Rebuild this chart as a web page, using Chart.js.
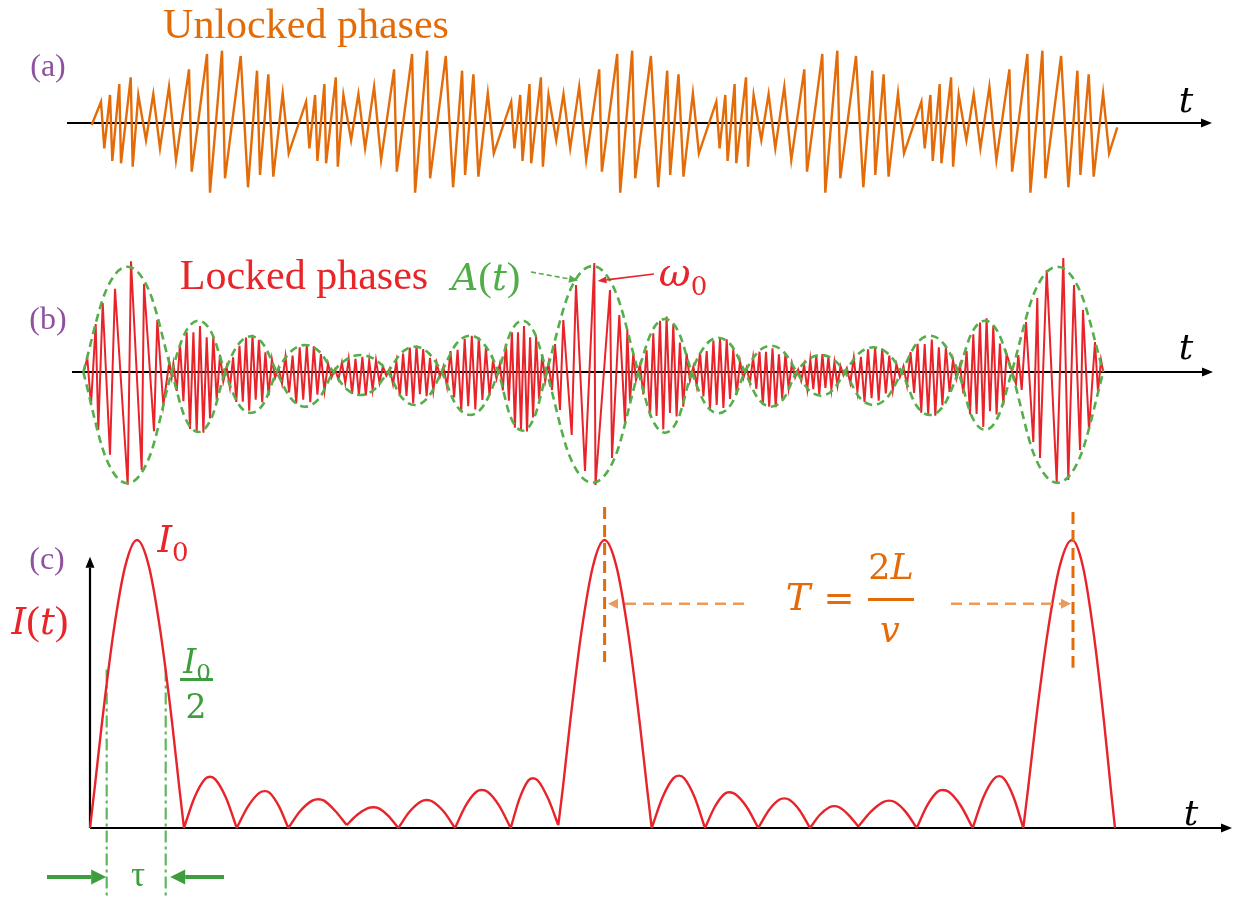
<!DOCTYPE html>
<html><head><meta charset="utf-8">
<script src="https://cdn.jsdelivr.net/npm/chart.js@4"></script>
<style>
html,body{margin:0;padding:0;background:#fff;}
#wrap{position:relative;width:1238px;height:899px;overflow:hidden;background:#fff;}
canvas{position:absolute;left:0;top:0;}
.lbl{position:absolute;white-space:nowrap;line-height:1;transform:translate(-50%,-50%);}
.serif{font-family:"Liberation Serif","Times New Roman",serif;}
.mi{font-family:"DejaVu Serif",serif;font-style:italic;}
.up{font-family:"DejaVu Serif",serif;font-style:normal;}
.bar{position:absolute;height:0;}
</style></head><body>
<div id="wrap">
<canvas id="c" width="1238" height="899"></canvas>
<div class="lbl serif" style="left:48px;top:65px;font-size:32px;color:#8E52A1;">(a)</div>
<div class="lbl serif" style="left:306px;top:24px;font-size:42px;color:#E36C09;">Unlocked phases</div>
<div class="lbl mi" style="left:1186px;top:100px;font-size:36px;color:#000;">t</div>
<div class="lbl serif" style="left:48px;top:318px;font-size:32px;color:#8E52A1;">(b)</div>
<div class="lbl serif" style="left:304px;top:275px;font-size:42px;color:#E8262A;">Locked phases</div>
<div class="lbl" style="left:486px;top:276px;font-size:37px;color:#4FAE48;"><span class="mi">A</span><span class="serif" style="font-size:41px">(</span><span class="mi">t</span><span class="serif" style="font-size:41px">)</span></div>
<div class="lbl" style="left:683px;top:272px;font-size:39px;color:#E8262A;"><span class="mi">ω</span><span class="up" style="font-size:26px;position:relative;top:9px;">0</span></div>
<div class="lbl mi" style="left:1186px;top:347px;font-size:36px;color:#000;">t</div>
<div class="lbl serif" style="left:47px;top:558px;font-size:32px;color:#8E52A1;">(c)</div>
<div class="lbl" style="left:173px;top:539px;font-size:37px;color:#E8262A;"><span class="mi">I</span><span class="up" style="font-size:26px;position:relative;top:9px;">0</span></div>
<div class="lbl" style="left:40px;top:620px;font-size:37px;color:#E8262A;"><span class="mi">I</span><span class="serif" style="font-size:41px">(</span><span class="mi">t</span><span class="serif" style="font-size:41px">)</span></div>
<div class="lbl" style="left:197px;top:662px;font-size:33px;color:#3C9E3C;"><span class="mi">I</span><span class="up" style="font-size:23px;position:relative;top:7px;">0</span></div>
<div class="bar" style="left:180px;top:678px;width:33px;border-top:3px solid #3C9E3C;"></div>
<div class="lbl up" style="left:196px;top:706px;font-size:33px;color:#3C9E3C;">2</div>
<div class="lbl serif" style="left:138px;top:874px;font-size:35px;color:#3C9E3C;">τ</div>
<div class="lbl mi" style="left:1191px;top:813px;font-size:36px;color:#000;">t</div>
<div class="lbl mi" style="left:798px;top:597px;font-size:37px;color:#E36C09;">T</div>
<div class="lbl up" style="left:839px;top:598px;font-size:37px;color:#E36C09;">=</div>
<div class="lbl" style="left:891px;top:567px;font-size:35px;color:#E36C09;"><span class="up">2</span><span class="mi">L</span></div>
<div class="bar" style="left:868px;top:598px;width:46px;border-top:3px solid #E36C09;"></div>
<div class="lbl mi" style="left:890px;top:630px;font-size:35px;color:#E36C09;">v</div>
</div>
<script>
// ---------- Panel (a): unlocked phases (t, amplitude) ----------
const aT = [0.17,
 1.10,1.43,2.00,2.23,2.93,3.10,4.07,4.27,4.83,5.60,6.33,7.00,7.90,8.60,9.90,10.17,11.70,12.00,13.20,13.50,15.07,15.80,16.70,17.00,17.83,18.33,19.27,19.87,
 21.61,21.94,22.51,22.74,23.44,23.61,24.58,24.78,25.34,26.11,26.84,27.51,28.41,29.11,30.41,30.68,32.21,32.51,33.71,34.01,35.58,36.31,37.21,37.51,38.34,38.84,39.78,40.38,
 42.12,42.45,43.02,43.25,43.95,44.12,45.09,45.29,45.85,46.62,47.35,48.02,48.92,49.62,50.92,51.19,52.72,53.02,54.22,54.52,56.09,56.82,57.72,58.02,58.85,59.35,60.29,60.89,
 62.63,62.96,63.53,63.76,64.46,64.63,65.60,65.80,66.36,67.13,67.86,68.53,69.43,70.13,71.43,71.70,73.23,73.53,74.73,75.03,76.60,77.33,78.23,78.53,79.36,79.86,80.80,81.40,
 83.14,83.47,84.04,84.27,84.97,85.14,86.11,86.31,86.87,87.64,88.37,89.04,89.94,90.64,91.94,92.21,93.74,94.04,95.24,95.54,97.11,97.84,98.74,99.04,99.87,100.37,101.31,101.91,
 102.73];
const aV = [-0.2,
 2.13,-2.53,2.80,-3.80,3.90,-4.03,4.57,-4.37,2.80,-1.70,2.90,-2.53,3.63,-3.70,5.37,-4.87,6.90,-6.97,7.23,-5.53,6.70,-6.43,5.23,-5.20,4.87,-5.37,2.97,-3.03,
 2.13,-2.53,2.80,-3.80,3.90,-4.03,4.57,-4.37,2.80,-1.70,2.90,-2.53,3.63,-3.70,5.37,-4.87,6.90,-6.97,7.23,-5.53,6.70,-6.43,5.23,-5.20,4.87,-5.37,2.97,-3.03,
 2.13,-2.53,2.80,-3.80,3.90,-4.03,4.57,-4.37,2.80,-1.70,2.90,-2.53,3.63,-3.70,5.37,-4.87,6.90,-6.97,7.23,-5.53,6.70,-6.43,5.23,-5.20,4.87,-5.37,2.97,-3.03,
 2.13,-2.53,2.80,-3.80,3.90,-4.03,4.57,-4.37,2.80,-1.70,2.90,-2.53,3.63,-3.70,5.37,-4.87,6.90,-6.97,7.23,-5.53,6.70,-6.43,5.23,-5.20,4.87,-5.37,2.97,-3.03,
 2.13,-2.53,2.80,-3.80,3.90,-4.03,4.57,-4.37,2.80,-1.70,2.90,-2.53,3.63,-3.70,5.37,-4.87,6.90,-6.97,7.23,-5.53,6.70,-6.43,5.23,-5.20,4.87,-5.37,2.97,-3.03,
 -0.43];

// ---------- Panel (b): locked phases, carrier ----------
const bRedT = [-0.6,-0.27,0.1,0.57,0.83,1.27,2.0,2.5,3.77,4.1,5.17,5.4,6.4,6.73,7.33,7.93,8.17,
 8.34,8.67,9.00,9.34,9.67,10.00,10.34,10.67,11.00,11.34,11.67,12.00,12.33,12.67,13.00,13.33,
 13.66,13.99,14.31,14.63,14.95,15.28,15.60,15.92,16.25,16.57,16.89,17.22,17.54,17.86,18.19,18.51,
 18.85,19.20,19.55,19.91,20.26,20.62,20.97,21.32,21.68,22.03,22.38,22.74,23.09,23.45,23.80,24.15,
 24.50,24.84,25.19,25.53,25.87,26.21,26.55,26.89,27.24,27.58,27.92,28.26,28.60,28.95,29.29,29.63,
 29.97,30.30,30.64,30.98,31.31,31.65,31.98,32.32,32.65,32.99,33.32,33.66,34.00,34.33,34.67,35.00,
 35.35,35.70,36.05,36.41,36.76,37.12,37.47,37.82,38.18,38.53,38.88,39.24,39.59,39.95,40.30,40.65,
 40.98,41.28,41.59,41.89,42.19,42.49,42.80,43.10,43.40,43.70,44.01,44.31,44.61,44.91,45.22,45.52,
 45.85,46.2,46.5,47.0,47.33,48.17,48.6,49.5,50.43,50.55,52.0,52.2,52.93,53.5,53.73,54.0,54.33,54.6,
 55.00,55.33,55.66,56.00,56.33,56.66,57.00,57.33,57.66,58.00,58.33,58.66,58.99,59.33,59.66,59.99,
 60.34,60.67,61.00,61.34,61.67,62.00,62.34,62.67,63.00,63.34,63.67,64.00,64.33,64.67,65.00,65.33,
 65.66,65.99,66.31,66.63,66.95,67.28,67.60,67.92,68.25,68.57,68.89,69.22,69.54,69.86,70.19,70.51,
 70.82,71.12,71.42,71.73,72.03,72.33,72.63,72.93,73.24,73.54,73.84,74.14,74.44,74.75,75.05,75.35,
 75.68,76.03,76.38,76.74,77.09,77.45,77.80,78.16,78.51,78.87,79.22,79.58,79.93,80.28,80.64,80.99,
 81.35,81.70,82.05,82.41,82.76,83.12,83.47,83.82,84.18,84.53,84.88,85.24,85.59,85.95,86.30,86.65,
 87.00,87.33,87.66,88.00,88.33,88.66,89.00,89.33,89.66,90.00,90.33,90.66,90.99,91.33,91.66,
 92.6,92.83,93.17,93.6,94.33,94.73,95.0,95.67,96.67,97.33,97.83,98.4,99.0,99.3,99.9,100.5,100.8,101.1,101.33];
const bRedV = [0.1,1.4,-3.3,4.8,-5.8,6.9,-8.27,8.33,-11.27,11.07,-9.8,8.8,-5.93,5.2,-3.3,1.0,-0.5,
 0.80,-1.89,2.81,-2.92,3.97,-5.69,3.96,-5.98,4.60,-6.08,3.48,-4.64,3.57,-2.79,1.71,-0.94,
 0.50,-1.52,1.46,-2.99,2.62,-2.96,3.45,-3.88,3.73,-2.77,3.23,-3.01,1.98,-2.35,1.26,-0.57,
 0.42,-1.16,1.55,-2.05,1.65,-3.14,2.48,-2.77,2.69,-3.02,2.56,-2.26,1.78,-1.90,0.85,-0.54,
 0.27,-0.72,0.93,-1.12,1.31,-2.18,1.31,-2.29,1.52,-2.33,1.15,-1.78,1.18,-1.07,0.57,-0.36,
 0.35,-1.22,1.04,-2.41,1.85,-2.39,2.44,-3.12,2.65,-2.23,2.29,-2.42,1.41,-1.89,0.89,-0.46,
 0.57,-1.44,2.08,-2.54,2.22,-3.89,3.33,-3.43,3.62,-3.74,3.44,-2.80,2.40,-2.35,1.14,-0.67,
 0.80,-1.85,2.81,-2.86,3.97,-5.57,3.96,-5.85,4.60,-5.95,3.48,-4.54,3.57,-2.73,1.71,-0.92,
 0.9,-1.8,2.8,-3.8,5.2,-6.3,8.7,-9.9,10.9,-11.3,8.2,-8.6,5.7,-5.1,4.2,-2.9,1.9,-0.8,
 0.74,-2.25,2.17,-4.43,3.88,-4.39,5.11,-5.74,5.54,-4.10,4.79,-4.45,2.95,-3.48,1.87,-0.85,
 0.54,-1.38,1.97,-2.44,2.10,-3.73,3.15,-3.29,3.42,-3.59,3.26,-2.69,2.26,-2.26,1.08,-0.64,
 0.41,-1.09,1.44,-1.69,2.03,-3.29,2.03,-3.46,2.36,-3.52,1.78,-2.68,1.83,-1.61,0.88,-0.54,
 0.24,-0.88,0.70,-1.73,1.25,-1.71,1.64,-2.24,1.78,-1.60,1.54,-1.74,0.95,-1.36,0.60,-0.33,
 0.39,-1.10,1.42,-1.95,1.51,-2.98,2.26,-2.63,2.46,-2.87,2.34,-2.15,1.63,-1.81,0.78,-0.51,
 0.57,-1.35,1.99,-2.09,2.81,-4.08,2.80,-4.28,3.25,-4.36,2.46,-3.32,2.52,-2.00,1.21,-0.67,
 0.72,-2.15,2.10,-4.23,3.76,-4.19,4.95,-5.49,5.37,-3.92,4.64,-4.25,2.85,-3.33,1.81,
 -1.2,1.7,-1.8,5.0,-7.0,7.4,-8.6,10.2,-11.0,11.4,-10.8,8.7,-7.8,6.2,-5.8,3.0,-2.0,1.2,0];

// ---------- Panel (b): envelope A(t) and -A(t) ----------
const bEnvT = [-0.67,1.54,3.75,5.96, 8.17,9.50,10.84,12.17, 13.5,14.79,16.09,17.38, 18.67,20.09,21.5,22.92,
 24.33,25.7,27.07,28.43, 29.8,31.14,32.49,33.83, 35.17,36.59,38.0,39.42, 40.83,42.04,43.25,44.46,
 45.67,47.96,50.25,52.54, 54.83,56.17,57.5,58.84, 60.17,61.5,62.84,64.17, 65.5,66.79,68.09,69.38,
 70.67,71.88,73.09,74.29, 75.5,76.92,78.34,79.75, 81.17,82.59,84.0,85.42, 86.83,88.17,89.5,90.84,
 92.17,94.46,96.75,99.04, 101.33];
const bEnvA = [0,8.0,10.53,8.0, 0,-4.56,-6.0,-4.56, 0,2.71,3.57,2.71, 0,-2.64,-3.47,-2.64,
 0,1.29,1.7,1.29, 0,-2.51,-3.3,-2.51, 0,2.76,3.63,2.76, 0,-4.46,-5.87,-4.46,
 0,8.06,10.6,8.06, 0,-4.61,-6.07,-4.61, 0,2.61,3.43,2.61, 0,-2.64,-3.47,-2.64,
 0,1.29,1.7,1.29, 0,-2.51,-3.3,-2.51, 0,2.76,3.63,2.76, 0,-4.41,-5.8,-4.41,
 0,8.0,10.53,8.0, 0];
const bEnvB = [0,-8.46,-11.13,-8.46, 0,3.9,5.13,3.9, 0,-3.12,-4.1,-3.12, 0,2.05,2.7,2.05,
 0,-1.75,-2.3,-1.75, 0,1.92,2.53,1.92, 0,-3.27,-4.3,-3.27, 0,3.9,5.13,3.9,
 0,-8.41,-11.07,-8.41, 0,4.03,5.3,4.03, 0,-3.14,-4.13,-3.14, 0,2.0,2.63,2.0,
 0,-1.8,-2.37,-1.8, 0,1.88,2.47,1.88, 0,-3.27,-4.3,-3.27, 0,3.9,5.13,3.9,
 0,-8.41,-11.07,-8.41, 0];

// ---------- Panel (c): intensity I(t)/I0 (null = lobe break) ----------
const cT = [0,0.47,1.18,2.35,3.53,4.7,5.88,7.05,8.23,8.93,9.4, 9.4,
 9.4,10.44,11.48,12.0,12.53,13.6,14.67, 14.67,
 14.67,15.8,16.93,17.5,17.97,18.9,19.83, 19.83,
 19.83,21.03,22.23,22.83,23.4,24.53,25.67, 25.67,
 25.67,26.73,27.8,28.33,28.83,29.83,30.83, 30.83,
 30.83,31.97,33.1,33.67,34.24,35.37,36.5, 36.5,
 36.5,37.57,38.64,39.17,39.75,40.91,42.07, 42.07,
 42.07,42.95,43.83,44.27,44.78,45.81,46.83, 46.83,
 46.83,47.29,47.99,49.14,50.3,51.45,52.63,53.81,54.99,55.7,56.17, 56.17,
 56.17,57.26,58.35,58.9,59.42,60.46,61.5, 61.5,
 61.5,62.47,63.44,63.93,64.51,65.67,66.83, 66.83,
 66.83,67.87,68.91,69.43,69.94,70.97,72.0, 72.0,
 72.0,72.97,73.94,74.43,74.91,75.87,76.83, 76.83,
 76.83,78.07,79.31,79.93,80.48,81.57,82.67, 82.67,
 82.67,83.71,84.75,85.27,85.87,87.07,88.27, 88.27,
 88.27,89.33,90.4,90.93,91.41,92.37,93.33, 93.33,
 93.33,93.82,94.55,95.77,96.98,98.2,99.28,100.35,101.43,102.07,102.5];
const cI = [0,0.14,0.36,0.68,0.91,1.0,0.91,0.68,0.36,0.14,0, null,
 0,0.105,0.169,0.178,0.169,0.105,0, null,
 0,0.075,0.122,0.128,0.122,0.075,0, null,
 0,0.059,0.095,0.10,0.095,0.059,0.01, null,
 0.01,0.046,0.069,0.072,0.069,0.042,0, null,
 0,0.057,0.092,0.097,0.092,0.057,0, null,
 0,0.078,0.126,0.132,0.126,0.078,0, null,
 0,0.102,0.165,0.173,0.165,0.102,0.01, null,
 0.01,0.14,0.36,0.68,0.91,1.0,0.91,0.68,0.36,0.14,0, null,
 0,0.107,0.173,0.182,0.173,0.107,0, null,
 0,0.073,0.118,0.124,0.118,0.073,0, null,
 0,0.061,0.098,0.103,0.098,0.061,0, null,
 0,0.045,0.072,0.076,0.072,0.045,0.005, null,
 0.005,0.056,0.09,0.095,0.09,0.056,0, null,
 0,0.078,0.126,0.132,0.126,0.078,0, null,
 0,0.106,0.171,0.18,0.171,0.106,0, null,
 0,0.14,0.36,0.68,0.91,1.0,0.91,0.68,0.36,0.14,0];

// Guide positions (in data units)
const tauT = [1.67, 7.57];        // half-maximum times of first pulse
const peakT = [51.46, 98.3];      // pulse peaks used for the period arrow

// ---------- build ----------
const pts = (xs, ys) => xs.map((x, i) => ({x: x, y: ys[i]}));
const ORANGE = '#E36C09', RED = '#E8232A', GREEN = '#55AE4A', DGREEN = '#3C9E3C';

function arrow(ctx, x1, y1, x2, y2, color, width, headLen, headW, dash) {
  ctx.save();
  ctx.strokeStyle = color; ctx.fillStyle = color; ctx.lineWidth = width;
  const ang = Math.atan2(y2 - y1, x2 - x1);
  const bx = x2 - headLen * Math.cos(ang), by = y2 - headLen * Math.sin(ang);
  ctx.setLineDash(dash || []);
  ctx.beginPath(); ctx.moveTo(x1, y1); ctx.lineTo(bx, by); ctx.stroke();
  ctx.setLineDash([]);
  ctx.beginPath(); ctx.moveTo(x2, y2);
  ctx.lineTo(bx + headW * Math.sin(ang), by - headW * Math.cos(ang));
  ctx.lineTo(bx - headW * Math.sin(ang), by + headW * Math.cos(ang));
  ctx.closePath(); ctx.fill();
  ctx.restore();
}
function vline(ctx, x, y1, y2, color, width, dash) {
  ctx.save(); ctx.strokeStyle = color; ctx.lineWidth = width; ctx.setLineDash(dash);
  ctx.beginPath(); ctx.moveTo(x, y1); ctx.lineTo(x, y2); ctx.stroke(); ctx.restore();
}

const decor = {
  id: 'decor',
  beforeDatasetsDraw(chart) {
    const {ctx} = chart; const s = chart.scales;
    const X = v => s.x.getPixelForValue(v);
    arrow(ctx, X(-2.3), s.yA.getPixelForValue(0), X(112.2), s.yA.getPixelForValue(0), '#000', 2.2, 11, 4.5);
    arrow(ctx, X(-1.8), s.yB.getPixelForValue(0), X(112.3), s.yB.getPixelForValue(0), '#000', 2.2, 11, 4.5);
    arrow(ctx, X(0), s.yC.getPixelForValue(0), X(114.2), s.yC.getPixelForValue(0), '#000', 2.2, 11, 4.5);
    arrow(ctx, X(0), s.yC.getPixelForValue(0), X(0), s.yC.getPixelForValue(0.942), '#000', 2.2, 11, 4.5);
    tauT.forEach(t => vline(ctx, X(t), s.yC.getPixelForValue(0.55), s.yC.getPixelForValue(-0.25), '#5DB85B', 2.2, [12, 4, 3, 4]));
  },
  afterDatasetsDraw(chart) {
    const {ctx} = chart; const s = chart.scales;
    const X = v => s.x.getPixelForValue(v);
    const YB = v => s.yB.getPixelForValue(v), YC = v => s.yC.getPixelForValue(v);
    arrow(ctx, X(44.1), YB(10.0), X(48.8), YB(9.15), GREEN, 1.6, 9, 4, [5, 3]);
    arrow(ctx, X(56.4), YB(9.8), X(50.75), YB(9.1), RED, 1.6, 9, 3.5);
    peakT.forEach((t, i) => vline(ctx, X(t), YC(i ? 1.097 : 1.115), YC(i ? 0.556 : 0.576), ORANGE, 3, [12, 6]));
    arrow(ctx, X(65.4), YC(0.779), X(51.8), YC(0.779), '#EA9A5A', 2.5, 10, 5, [11, 7]);
    arrow(ctx, X(86.1), YC(0.779), X(98.1), YC(0.779), '#EA9A5A', 2.5, 10, 5, [11, 7]);
    arrow(ctx, X(-4.3), YC(-0.17), X(tauT[0] - 0.05), YC(-0.17), DGREEN, 4, 15, 7.5);
    arrow(ctx, X(13.4), YC(-0.17), X(tauT[1] + 0.45), YC(-0.17), DGREEN, 4, 15, 7.5);
  }
};

const common = {pointRadius: 0, pointHoverRadius: 0, fill: false, xAxisID: 'x'};
new Chart(document.getElementById('c'), {
  type: 'line',
  data: {
    datasets: [
      Object.assign({}, common, {label: 'A(t)', data: pts(bEnvT, bEnvA), yAxisID: 'yB', borderColor: GREEN, borderWidth: 2.6, borderDash: [8, 5], cubicInterpolationMode: 'monotone', order: 0}),
      Object.assign({}, common, {label: '-A(t)', data: pts(bEnvT, bEnvB), yAxisID: 'yB', borderColor: GREEN, borderWidth: 2.6, borderDash: [8, 5], cubicInterpolationMode: 'monotone', order: 1}),
      Object.assign({}, common, {label: 'Locked phases', data: pts(bRedT, bRedV), yAxisID: 'yB', borderColor: RED, borderWidth: 2.0, tension: 0, order: 2}),
      Object.assign({}, common, {label: 'Unlocked phases', data: pts(aT, aV), yAxisID: 'yA', borderColor: ORANGE, borderWidth: 2.4, tension: 0, order: 3}),
      Object.assign({}, common, {label: 'I(t)', data: pts(cT, cI), yAxisID: 'yC', borderColor: RED, borderWidth: 2.4, cubicInterpolationMode: 'monotone', spanGaps: false, order: 4})
    ]
  },
  options: {
    responsive: false, animation: false, devicePixelRatio: 1, events: [],
    layout: {padding: 0},
    plugins: {legend: {display: false}, tooltip: {enabled: false}, title: {display: false}},
    scales: {
      x: {type: 'linear', axis: 'x', min: -9, max: 114.8, display: false},
      yA: {type: 'linear', axis: 'y', min: -77.6, max: 12.3, display: false},
      yB: {type: 'linear', axis: 'y', min: -52.7, max: 37.2, display: false},
      yC: {type: 'linear', axis: 'y', min: -71 / 288, max: 828 / 288, display: false}
    }
  },
  plugins: [decor]
});
</script>
</body></html>
